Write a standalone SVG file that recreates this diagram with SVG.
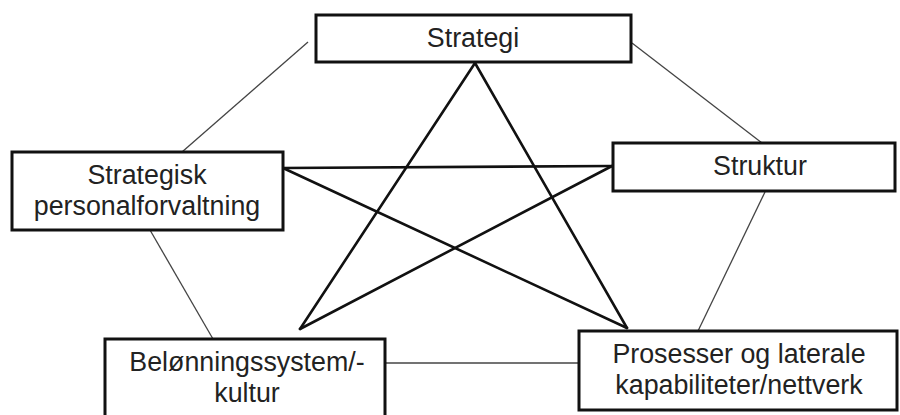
<svg xmlns="http://www.w3.org/2000/svg" width="900" height="415" viewBox="0 0 900 415">
  <style>
    .box { fill: #ffffff; stroke: #111111; stroke-width: 3; }
    .label { font-family: "Liberation Sans", Arial, sans-serif; font-size: 26.8px; fill: #222222; text-anchor: middle; }
    .thick { stroke: #111111; stroke-width: 2.6; fill: none; stroke-linecap: round; }
    .thin { stroke: #444444; stroke-width: 1.3; fill: none; }
  </style>
  <rect width="900" height="415" fill="#ffffff"/>

  <g id="connectors">
    <!-- outer ring -->
    <line class="thin" x1="308" y1="42" x2="182" y2="152"/>
    <line class="thin" x1="632" y1="43" x2="762" y2="143"/>
    <line class="thin" x1="765" y1="192" x2="698" y2="331"/>
    <line class="thin" x1="385" y1="363" x2="579" y2="363"/>
    <line class="thin" x1="150" y1="230" x2="213" y2="339"/>
    <!-- inner star -->
    <line class="thick" x1="475" y1="63" x2="300" y2="329"/>
    <line class="thick" x1="475" y1="63" x2="627" y2="328"/>
    <line class="thick" x1="283" y1="168" x2="612" y2="166"/>
    <line class="thick" x1="283" y1="168" x2="627" y2="328"/>
    <line class="thick" x1="612" y1="166" x2="300" y2="329"/>
  </g>

  <g id="strategi">
    <rect class="box" x="316" y="15" width="315" height="47"/>
    <text class="label" x="473" y="47">Strategi</text>
  </g>

  <g id="struktur">
    <rect class="box" x="613" y="143" width="282" height="48"/>
    <text class="label" x="760" y="175">Struktur</text>
  </g>

  <g id="personalforvaltning">
    <rect class="box" x="12" y="152" width="271" height="78"/>
    <text class="label" x="147" y="184">Strategisk</text>
    <text class="label" x="147" y="215">personalforvaltning</text>
  </g>

  <g id="belonning">
    <rect class="box" x="105" y="339" width="280" height="85"/>
    <text class="label" x="247" y="371">Belønningssystem/-</text>
    <text class="label" x="247" y="402">kultur</text>
  </g>

  <g id="prosesser">
    <rect class="box" x="579" y="331" width="318" height="79"/>
    <text class="label" x="739" y="363">Prosesser og laterale</text>
    <text class="label" x="739" y="394">kapabiliteter/nettverk</text>
  </g>
</svg>
